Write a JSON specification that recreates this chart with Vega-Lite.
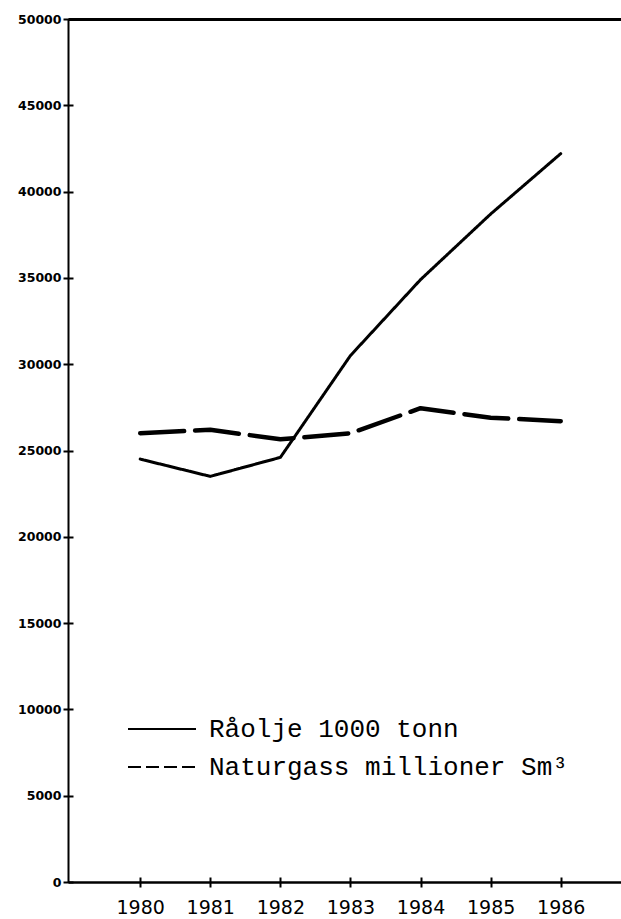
{
  "$schema": "https://vega.github.io/schema/vega-lite/v6.json",
  "width": 553,
  "height": 863,
  "autosize": "none",
  "padding": {"left": 68, "top": 19, "right": 0, "bottom": 37},
  "background": "white",
  "config": {"view": {"stroke": null}, "axis": {"grid": false, "domainColor": "black", "tickColor": "black", "labelColor": "black", "title": null}},
  "data": {"values": [
    {"year": 1980, "series": "Råolje 1000 tonn", "value": 24500},
    {"year": 1981, "series": "Råolje 1000 tonn", "value": 23500},
    {"year": 1982, "series": "Råolje 1000 tonn", "value": 24600},
    {"year": 1983, "series": "Råolje 1000 tonn", "value": 30500},
    {"year": 1984, "series": "Råolje 1000 tonn", "value": 34900},
    {"year": 1985, "series": "Råolje 1000 tonn", "value": 38700},
    {"year": 1986, "series": "Råolje 1000 tonn", "value": 42200},
    {"year": 1980, "series": "Naturgass millioner Sm³", "value": 26000},
    {"year": 1981, "series": "Naturgass millioner Sm³", "value": 26200},
    {"year": 1982, "series": "Naturgass millioner Sm³", "value": 25650},
    {"year": 1983, "series": "Naturgass millioner Sm³", "value": 26000},
    {"year": 1984, "series": "Naturgass millioner Sm³", "value": 27450},
    {"year": 1985, "series": "Naturgass millioner Sm³", "value": 26900},
    {"year": 1986, "series": "Naturgass millioner Sm³", "value": 26700}
  ]},
  "layer": [
    {
      "mark": {"type": "line", "color": "black", "strokeCap": "round", "strokeJoin": "round"},
      "encoding": {
        "x": {"field": "year", "type": "quantitative",
              "scale": {"domain": [1978.97, 1986.86], "nice": false, "zero": false},
              "axis": {"orient": "bottom", "values": [1980, 1981, 1982, 1983, 1984, 1985, 1986], "format": "d",
                       "ticks": false, "domainWidth": 2.5, "labelFont": "DejaVu Sans", "labelFontSize": 19,
                       "labelPadding": 16, "labelFlush": false}},
        "y": {"field": "value", "type": "quantitative",
              "scale": {"domain": [0, 50000], "nice": false},
              "axis": {"orient": "left", "values": [0, 5000, 10000, 15000, 20000, 25000, 30000, 35000, 40000, 45000, 50000],
                       "format": "d", "ticks": false, "domainWidth": 2, "labelFont": "DejaVu Sans", "labelFontWeight": "bold",
                       "labelFontSize": 12.5, "labelPadding": 7, "labelFlush": false}},
        "strokeDash": {"field": "series", "type": "nominal",
          "scale": {"domain": ["Råolje 1000 tonn", "Naturgass millioner Sm³"], "range": [[1, 0], [44, 11]]},
          "legend": null},
        "strokeWidth": {"field": "series", "type": "nominal",
          "scale": {"domain": ["Råolje 1000 tonn", "Naturgass millioner Sm³"], "range": [3, 4.5]},
          "legend": null}
      }
    },
    {
      "transform": [{"filter": "datum.year < 0"}],
      "mark": {"type": "line", "color": "black", "strokeWidth": 2},
      "encoding": {
        "x": {"field": "year", "type": "quantitative",
              "scale": {"domain": [1978.97, 1986.86], "nice": false, "zero": false},
              "axis": {"orient": "bottom", "values": [1980, 1981, 1982, 1983, 1984, 1985, 1986], "labels": false,
                       "domain": false, "ticks": true, "tickSize": 10, "tickWidth": 2, "offset": -5}},
        "y": {"field": "value", "type": "quantitative",
              "scale": {"domain": [0, 50000], "nice": false},
              "axis": {"orient": "left", "values": [0, 5000, 10000, 15000, 20000, 25000, 30000, 35000, 40000, 45000, 50000],
                       "labels": false, "domain": false, "ticks": true, "tickSize": 10, "tickWidth": 2, "offset": -5}},
        "strokeDash": {"field": "series", "type": "nominal",
          "scale": {"domain": ["Råolje 1000 tonn", "Naturgass millioner Sm³"], "range": [[1, 0], [13, 5]]},
          "legend": {"orient": "none", "legendX": 76, "legendY": 692, "title": null,
                     "symbolType": "M-2,0H2", "symbolSize": 1156, "symbolStrokeWidth": 2, "symbolStrokeColor": "black",
                     "labelFont": "Liberation Mono", "labelFontSize": 26, "labelColor": "black", "labelOffset": 29,
                     "rowPadding": 7, "labelLimit": 0, "padding": 0}}
      }
    },
    {
      "mark": {"type": "point", "opacity": 0},
      "encoding": {
        "x": {"field": "year", "type": "quantitative",
              "scale": {"domain": [1978.97, 1986.86], "nice": false, "zero": false},
              "axis": {"orient": "top", "labels": false, "ticks": false, "domain": true, "domainWidth": 3}}
      }
    }
  ],
  "resolve": {"axis": {"x": "independent", "y": "independent"}, "scale": {"strokeDash": "independent"}}
}
